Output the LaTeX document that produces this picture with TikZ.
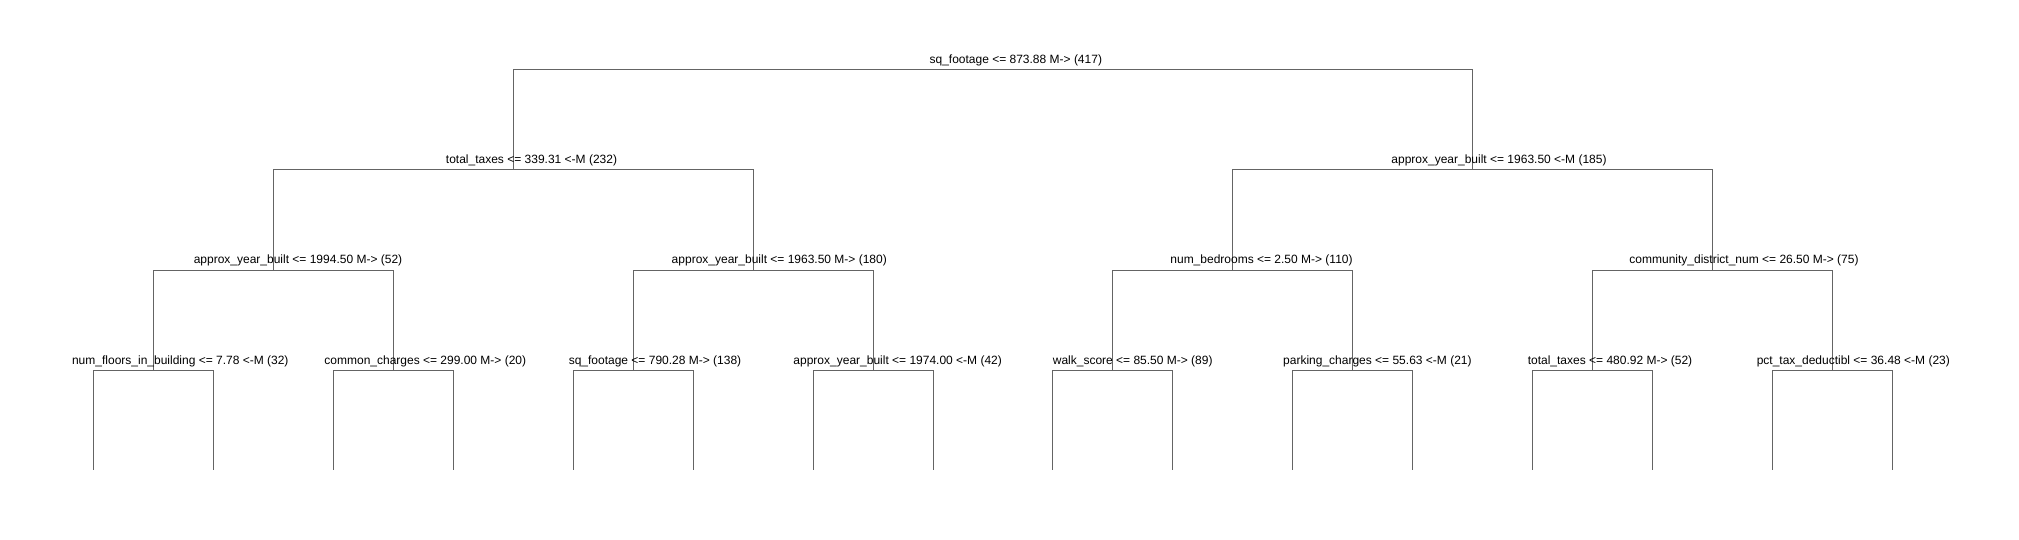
\documentclass[tikz,border=0pt]{standalone}
\usepackage{fontspec}
\setmainfont{Liberation Sans}
\definecolor{linegray}{RGB}{100,100,100}
\begin{document}
\begin{tikzpicture}[x=1pt,y=-1pt,
  edge/.style={draw=linegray, line width=1pt},
  lbl/.style={anchor=base, inner sep=0pt, font=\fontsize{12}{14}\selectfont, text=black}]
\useasboundingbox[fill=white] (0,0) rectangle (2019,540);
% split nodes (bar centres)
\coordinate (r)   at (992.98,70);
\coordinate (a)   at (513.18,170);
\coordinate (b)   at (1472.78,170);
\coordinate (aa)  at (273.28,270);
\coordinate (ab)  at (753.08,270);
\coordinate (ba)  at (1232.88,270);
\coordinate (bb)  at (1712.68,270);
\coordinate (aaa) at (153.33,370);
\coordinate (aab) at (393.23,370);
\coordinate (aba) at (633.13,370);
\coordinate (abb) at (873.03,370);
\coordinate (baa) at (1112.93,370);
\coordinate (bab) at (1352.83,370);
\coordinate (bba) at (1592.73,370);
\coordinate (bbb) at (1832.63,370);
% leaves
\coordinate (l0)  at (93.35,470);
\coordinate (l1)  at (213.30,470);
\coordinate (l2)  at (333.25,470);
\coordinate (l3)  at (453.20,470);
\coordinate (l4)  at (573.15,470);
\coordinate (l5)  at (693.10,470);
\coordinate (l6)  at (813.05,470);
\coordinate (l7)  at (933.00,470);
\coordinate (l8)  at (1052.95,470);
\coordinate (l9)  at (1172.90,470);
\coordinate (l10) at (1292.85,470);
\coordinate (l11) at (1412.80,470);
\coordinate (l12) at (1532.75,470);
\coordinate (l13) at (1652.70,470);
\coordinate (l14) at (1772.65,470);
\coordinate (l15) at (1892.60,470);
% connectors
\foreach \p/\c in {r/a, r/b, a/aa, a/ab, b/ba, b/bb,
  aa/aaa, aa/aab, ab/aba, ab/abb, ba/baa, ba/bab, bb/bba, bb/bbb,
  aaa/l0, aaa/l1, aab/l2, aab/l3, aba/l4, aba/l5, abb/l6, abb/l7,
  baa/l8, baa/l9, bab/l10, bab/l11, bba/l12, bba/l13, bbb/l14, bbb/l15}
  \draw[edge] (\p) -| (\c);
% labels
\node[lbl] (tr)   at (1015.8,64) {sq\_footage <= 873.88 M-> (417)};
\node[lbl] (ta)   at (531.5,164) {total\_taxes <= 339.31 <-M (232)};
\node[lbl] (tb)   at (1499.0,164) {approx\_year\_built <= 1963.50 <-M (185)};
\node[lbl] (taa)  at (298.0,264) {approx\_year\_built <= 1994.50 M-> (52)};
\node[lbl] (tab)  at (779.3,264) {approx\_year\_built <= 1963.50 M-> (180)};
\node[lbl] (tba)  at (1261.5,264) {num\_bedrooms <= 2.50 M-> (110)};
\node[lbl] (tbb)  at (1744.0,264) {community\_district\_num <= 26.50 M-> (75)};
\node[lbl] (taaa) at (180.3,364) {num\_floors\_in\_building <= 7.78 <-M (32)};
\node[lbl] (taab) at (425.3,364) {common\_charges <= 299.00 M-> (20)};
\node[lbl] (taba) at (655.0,364) {sq\_footage <= 790.28 M-> (138)};
\node[lbl] (tabb) at (897.7,364) {approx\_year\_built <= 1974.00 <-M (42)};
\node[lbl] (tbaa) at (1132.7,364) {walk\_score <= 85.50 M-> (89)};
\node[lbl] (tbab) at (1377.4,364) {parking\_charges <= 55.63 <-M (21)};
\node[lbl] (tbba) at (1610.0,364) {total\_taxes <= 480.92 M-> (52)};
\node[lbl] (tbbb) at (1853.3,364) {pct\_tax\_deductibl <= 36.48 <-M (23)};
\end{tikzpicture}
\end{document}
